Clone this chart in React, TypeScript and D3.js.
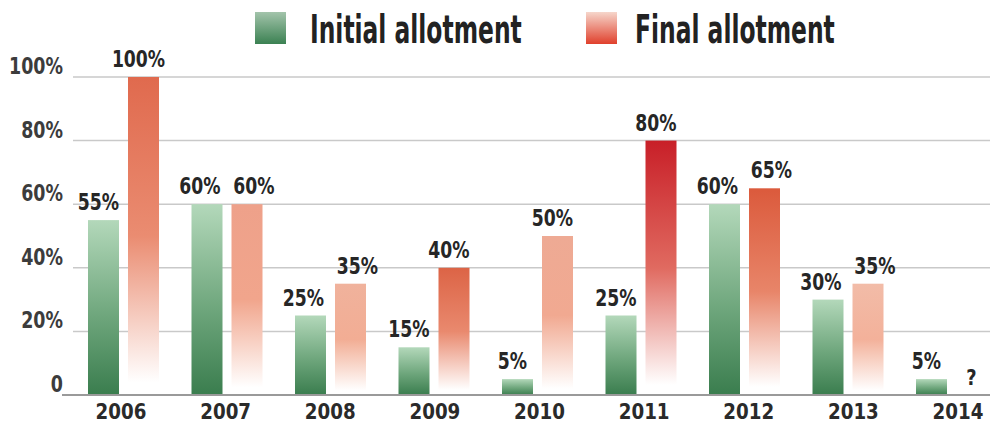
import React from "react";
import * as d3 from "d3";

const years = ["2006", "2007", "2008", "2009", "2010", "2011", "2012", "2013", "2014"];
const initialValues: number[] = [55, 60, 25, 15, 5, 25, 60, 30, 5];
const finalValues: (number | null)[] = [100, 60, 35, 40, 50, 80, 65, 35, null];
const yTicks = [0, 20, 40, 60, 80, 100];
const yTickLabels = ["0", "20%", "40%", "60%", "80%", "100%"];
const seriesNames = ["Initial allotment", "Final allotment"];
const finalTopColors = ["#e06a4e", "#eea18a", "#f0b29c", "#dc6446", "#eeaa94", "#c81f28", "#db5a3c", "#f2bca8", "#f0b29c"];

const W = 990;
const H = 423;
const FONT = '"DejaVu Sans", sans-serif';

type CTextProps = {
  x: number;
  y: number;
  sx: number;
  size: number;
  anchor?: "start" | "middle" | "end";
  fill?: string;
  children: React.ReactNode;
};

function CText({ x, y, sx, size, anchor = "start", fill = "#262626", children }: CTextProps) {
  return (
    <g transform={`translate(${x},${y}) scale(${sx},1)`}>
      <text x={0} y={0} textAnchor={anchor} fontFamily={FONT} fontWeight="bold" fontSize={size} fill={fill}>
        {children}
      </text>
    </g>
  );
}

export default function App() {
  const y = d3.scaleLinear().domain([0, 100]).range([395, 77]);
  const x = d3.scaleBand<string>().domain(years).range([80, 80 + 9 * 103.5]).padding(0);
  const inner = d3.scaleBand<string>().domain(["initial", "final"]).range([8, 79]).paddingInner(0.225).paddingOuter(0);
  const xLabel = d3.scalePoint<string>().domain(years).range([121, 958]);
  const bw = inner.bandwidth();

  const labelDx = (i: number, which: "g" | "r") => {
    const g = initialValues[i];
    const r = finalValues[i];
    if (r != null && Math.abs(g - r) <= 10) return which === "g" ? -7 : 7;
    return -5;
  };

  return (
    <svg width={W} height={H} style={{ position: "absolute", left: 0, top: 0, background: "#fff" }}>
      <defs>
        <linearGradient id="gGreen" x1="0" y1="0" x2="0" y2="1">
          <stop offset="0" stopColor="#b3d8ba" />
          <stop offset="0.55" stopColor="#6ea67c" />
          <stop offset="1" stopColor="#3a7d4e" />
        </linearGradient>
        {finalTopColors.map((c, i) => (
          <linearGradient key={i} id={`gRed${i}`} x1="0" y1="0" x2="0" y2="1">
            <stop offset="0" stopColor={c} />
            <stop offset="0.5" stopColor={d3.interpolateRgb(c, "#f3a88e")(0.55)} />
            <stop offset="0.96" stopColor="#ffffff" />
          </linearGradient>
        ))}
        <linearGradient id="legGreen" x1="0" y1="0" x2="0" y2="1">
          <stop offset="0" stopColor="#a3c4ab" />
          <stop offset="1" stopColor="#3b8152" />
        </linearGradient>
        <linearGradient id="legRed" x1="0" y1="0" x2="0" y2="1">
          <stop offset="0" stopColor="#f6d6cb" />
          <stop offset="1" stopColor="#e0402c" />
        </linearGradient>
      </defs>

      {/* gridlines and y labels */}
      {yTicks.map((t, i) => (
        <g key={t}>
          {t > 0 && <line x1={73} x2={W} y1={y(t)} y2={y(t)} stroke="#c9c9c9" strokeWidth={1.5} />}
          <CText x={63} y={y(t) - 3} sx={0.76} size={23} anchor="end" fill="#3c3c3c">
            {yTickLabels[i]}
          </CText>
        </g>
      ))}

      {/* bars */}
      {years.map((yr, i) => {
        const x0 = x(yr)!;
        const g = initialValues[i];
        const r = finalValues[i];
        const gx = x0 + inner("initial")!;
        const rx = x0 + inner("final")!;
        return (
          <g key={yr}>
            <rect x={gx} y={y(g)} width={bw} height={y(0) - y(g)} fill="url(#gGreen)" />
            <CText x={gx + bw / 2 + labelDx(i, "g")} y={y(g) - 10} sx={0.75} size={23} anchor="middle">
              {g}%
            </CText>
            {r != null ? (
              <>
                <rect x={rx} y={y(r)} width={bw} height={y(0) - y(r)} fill={`url(#gRed${i})`} />
                <CText x={rx + bw / 2 + labelDx(i, "r")} y={y(r) - 10} sx={0.75} size={23} anchor="middle">
                  {r}%
                </CText>
              </>
            ) : (
              <CText x={rx + bw / 2} y={y(0) - 10} sx={0.85} size={21} anchor="middle">
                ?
              </CText>
            )}
            <CText x={xLabel(yr)!} y={419} sx={0.83} size={22} anchor="middle" fill="#2a2a2a">
              {yr}
            </CText>
          </g>
        );
      })}

      {/* baseline */}
      <line x1={62} x2={W} y1={y(0)} y2={y(0)} stroke="#9a9a9a" strokeWidth={2} />

      {/* legend */}
      <rect x={255} y={12} width={31} height={32} fill="url(#legGreen)" />
      <CText x={310} y={43} sx={0.6} size={39} fill="#222">
        {seriesNames[0]}
      </CText>
      <rect x={586} y={12} width={31} height={32} fill="url(#legRed)" />
      <CText x={635} y={43} sx={0.6} size={39} fill="#222">
        {seriesNames[1]}
      </CText>
    </svg>
  );
}
